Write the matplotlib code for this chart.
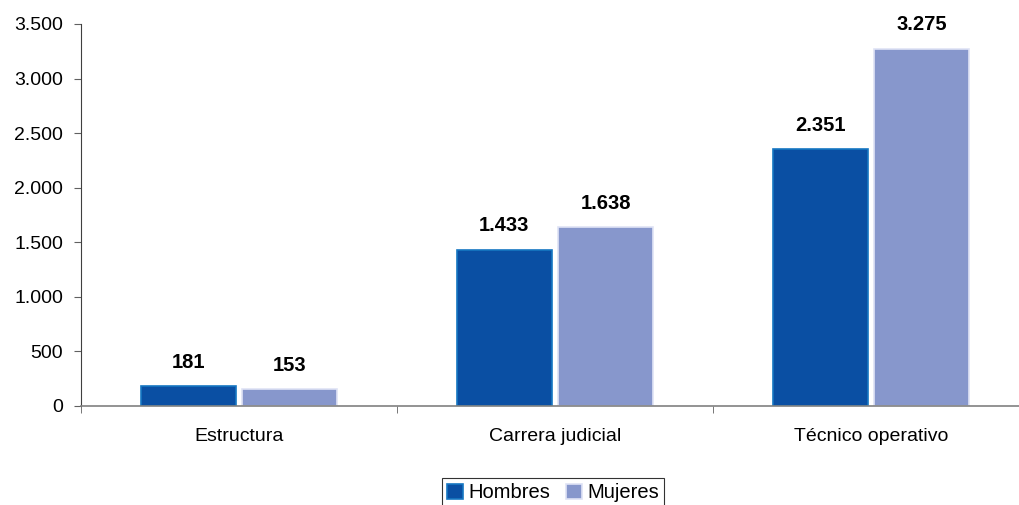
import numpy as np
import matplotlib.pyplot as plt
from matplotlib.ticker import FuncFormatter, FixedLocator

plt.rcParams['font.family'] = ['Liberation Sans', 'DejaVu Sans']

categorias = ['Estructura', 'Carrera judicial', 'Técnico operativo']
hombres = [181, 1433, 2351]
mujeres = [153, 1638, 3275]
series = ['Hombres', 'Mujeres']

def miles(v):
    return f"{int(v):,}".replace(',', '.')

fig = plt.figure(figsize=(10.19, 5.05), dpi=100)
ax = fig.add_axes([81/1019, 99/505, 948/1019, 382/505])

x = np.arange(len(categorias))
w = 0.30
gap = 0.011
b1 = ax.bar(x - w/2 - gap, hombres, w, color='#0a4fa3', edgecolor='#1677c2',
            linewidth=1.2, label=series[0])
b2 = ax.bar(x + w/2 + gap, mujeres, w, color='#8797cc', edgecolor='#dfe3f5',
            linewidth=1.2, label=series[1])

# etiquetas de valor sobre cada barra
for bars, vals in ((b1, hombres), (b2, mujeres)):
    for r, v in zip(bars, vals):
        ax.annotate(miles(v), (r.get_x() + r.get_width()/2, v),
                    xytext=(0, 17), textcoords='offset points',
                    ha='center', va='center', fontsize=14.5, fontweight='bold')

ax.set_xlim(-0.5, 2.5)
ax.set_ylim(0, 3500)
ax.set_yticks(np.arange(0, 3501, 500))
ax.yaxis.set_major_formatter(FuncFormatter(lambda v, p: miles(v)))
ax.set_xticks(x)
ax.set_xticklabels(categorias)
ax.xaxis.set_minor_locator(FixedLocator([-0.5, 0.5, 1.5, 2.5]))
ax.tick_params(axis='x', which='major', length=0, pad=16, labelsize=14)
ax.tick_params(axis='x', which='minor', length=5, color='#606060')
ax.tick_params(axis='y', length=5, color='#606060', labelsize=14, pad=8)

for s in ('top', 'right'):
    ax.spines[s].set_visible(False)
ax.spines['bottom'].set_color('#808080')
ax.spines['bottom'].set_linewidth(1.2)
ax.spines['left'].set_color('#404040')
ax.spines['left'].set_linewidth(0.8)

leg = fig.legend(handles=[b1, b2], labels=series, loc='center',
                 bbox_to_anchor=(553/1019, 1 - 493/505), ncol=2, frameon=True,
                 fancybox=False, edgecolor='black', fontsize=14.5,
                 handlelength=0.8, handleheight=0.8, handletextpad=0.25,
                 columnspacing=0.8, borderpad=0.25, borderaxespad=0)
leg.get_frame().set_linewidth(0.8)

fig.savefig('out.png', dpi=100)
